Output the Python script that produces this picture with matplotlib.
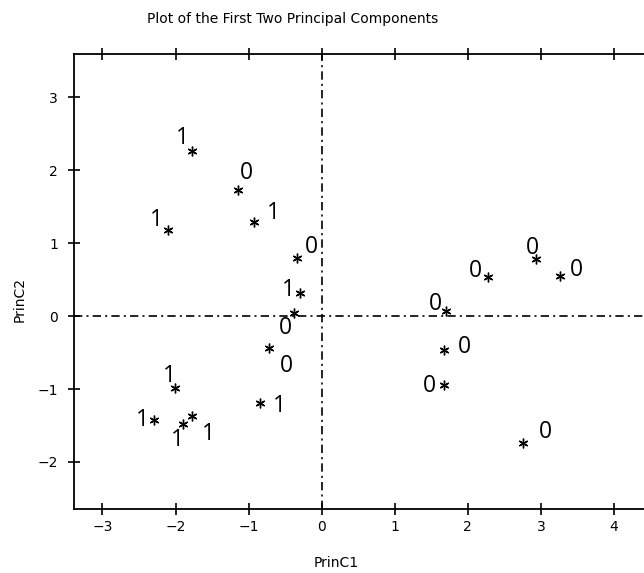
import matplotlib

matplotlib.use('Agg')
import matplotlib.pyplot as plt

# principal component scores and group label for each observation
prin1 = [-1.77, -1.15, -0.92, -2.11, -0.34, -0.30, -0.38, -0.72, -2.01, -0.85,
         -2.29, -1.90, -1.78, 1.70, 2.27, 2.93, 3.26, 1.68, 1.67, 2.76]
prin2 = [2.26, 1.73, 1.29, 1.18, 0.79, 0.32, 0.04, -0.44, -0.98, -1.19,
         -1.42, -1.48, -1.37, 0.07, 0.54, 0.78, 0.55, -0.46, -0.95, -1.74]
groups = ['1', '0', '1', '1', '0', '1', '0', '0', '1', '1',
          '1', '1', '1', '0', '0', '0', '0', '0', '0', '0']
# label offsets from the point (pixels), as they sit in the original
offsets = [(-10, 13), (9, 17), (19, 9), (-11, 10), (15, 11), (-11, 3), (-9, -15),
           (17, -18), (-5, 12), (20, -3), (-12, 0), (-5, -16), (17, -18),
           (-10, 7), (-12, 6), (-3, 11), (17, 6), (20, 3), (-14, -1), (22, 11)]

xticks = [-3, -2, -1, 0, 1, 2, 3, 4]
yticks = [-2, -1, 0, 1, 2, 3]

fig = plt.figure(figsize=(6.44, 5.73), dpi=100)
ax = fig.add_axes([74 / 644, 1 - 508.7 / 573, 578 / 644, (508.7 - 54) / 573])

ax.plot(prin1, prin2, linestyle='none', marker=(6, 2, 0), markersize=7,
        markeredgewidth=1.0, color='black')
for x, y, g, (dx, dy) in zip(prin1, prin2, groups, offsets):
    ax.annotate(g, (x, y), xytext=(dx, dy), textcoords='offset pixels',
                ha='center', va='center', fontsize=16.5, family='Open Sans')

# reference lines through the origin
for line in [ax.axhline(0, color='black', lw=1.2), ax.axvline(0, color='black', lw=1.2)]:
    line.set_dashes((5, 2.5, 1.2, 2.5))

ax.set_xlim(-3.39, 4.52)
ax.set_ylim(-2.64, 3.59)
ax.set_xticks(xticks)
ax.set_yticks(yticks)
ax.tick_params(axis='both', which='both', direction='inout', length=9, width=1.2,
               labelsize=10, top=True, right=True)
ax.tick_params(axis='y', pad=7)
for s in ax.spines.values():
    s.set_linewidth(1.3)

ax.set_xlabel('PrinC1', fontsize=10)
ax.xaxis.set_label_coords(0.453, -0.105)
ax.set_ylabel('PrinC2', fontsize=10)
ax.yaxis.set_label_coords(-0.082, 0.459)
fig.text(0.455, 0.967, 'Plot of the First Two Principal Components',
         ha='center', va='center', fontsize=10)

fig.savefig('out.png', dpi=100)
